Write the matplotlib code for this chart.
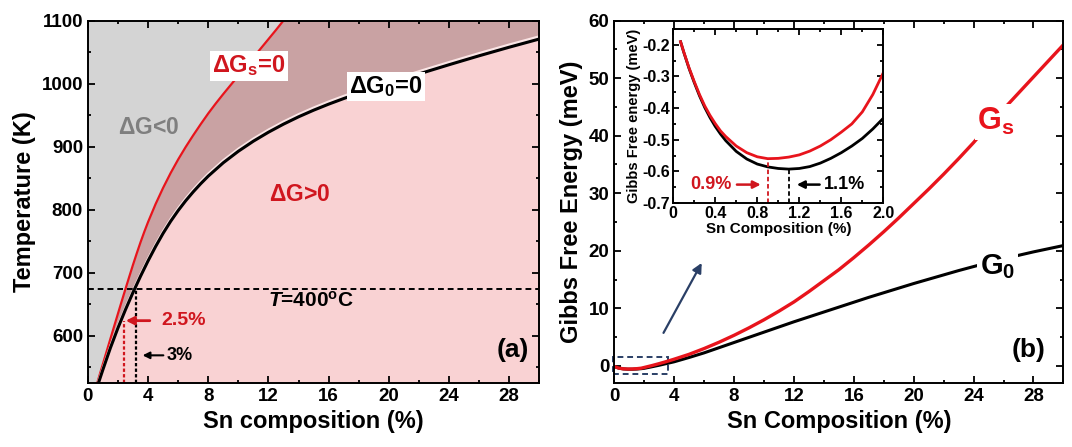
import matplotlib
matplotlib.use("Agg")
import matplotlib.pyplot as plt
import matplotlib.patheffects as pe
from matplotlib.ticker import MultipleLocator, FuncFormatter

# (a) phase boundaries: Sn composition (%) vs temperature (K)
red_x = [0.62, 0.8, 1.0, 1.25, 1.5, 1.75, 2.0, 2.25, 2.5, 2.75, 3.0, 3.25, 3.5, 3.75, 4.0,
         4.5, 5.0, 5.5, 6.0, 6.5, 7.0, 7.5, 8.0, 8.5, 9.0, 9.5, 10.0, 10.5, 11.0, 11.5, 12.0,
         12.5, 13.0]
red_T = [525, 539.6, 555.6, 575.6, 595.6, 615.5, 635.3, 655, 674.5, 693.8, 712.8, 731, 748.5,
         765, 780.5, 809, 834.7, 858.2, 879.7, 899.5, 918, 935.7, 952.7, 968.5, 983.5, 998,
         1012.5, 1027, 1041.5, 1056, 1070.5, 1085, 1100]
black_x = [0.7, 1.0, 1.5, 2.0, 2.5, 3.0, 3.5, 4.0, 4.5, 5.0, 5.5, 6.0, 6.5, 7.0, 7.5, 8.0,
           9.0, 10.0, 11.0, 12.0, 13.0, 14.0, 15.0, 16.0, 17.0, 18.0, 19.0, 20.0, 22.0, 24.0,
           26.0, 28.0, 30.0]
black_T = [525, 546.6, 581.1, 612.6, 641.6, 668.9, 694.6, 718.9, 741.6, 762.6, 781.6, 798.7,
           814.2, 828.3, 841.3, 853.3, 874.5, 892.7, 908.7, 922.9, 935.7, 947.3, 957.8, 967.4,
           976.3, 984.7, 992.6, 1000.3, 1015.3, 1029.9, 1044.1, 1057.7, 1070.7]
T_growth = 675
x_cross_s = 2.4
x_cross_0 = 3.2

# (b) Gibbs free energy (meV) vs Sn composition (%)
comp = [0.07, 0.3, 0.6, 0.9, 1.2, 1.5, 1.8, 2.0, 2.5, 3.0, 3.5, 4.0, 5.0, 6.0, 7.0, 8.0, 9.0,
        10.0, 11.0, 12.0, 13.0, 14.0, 15.0, 16.0, 17.0, 18.0, 19.0, 20.0, 21.0, 22.0, 23.0,
        24.0, 25.0, 26.0, 27.0, 28.0, 29.0, 30.0]
G_s = [-0.19, -0.393, -0.52, -0.56, -0.548, -0.5, -0.412, -0.288, 0.03, 0.38, 0.75, 1.15,
       2.0, 3.0, 4.1, 5.3, 6.6, 8.0, 9.5, 11.1, 12.9, 14.8, 16.7, 18.8, 21.0, 23.3, 25.7,
       28.2, 30.7, 33.3, 36.0, 38.8, 41.8, 44.6, 47.4, 50.2, 53.0, 55.8]
G_0 = [-0.19, -0.398, -0.537, -0.586, -0.591, -0.559, -0.496, -0.432, -0.17, 0.1, 0.4, 0.7,
       1.45, 2.25, 3.15, 4.05, 4.95, 5.85, 6.75, 7.65, 8.5, 9.35, 10.2, 11.05, 11.9, 12.7,
       13.5, 14.3, 15.05, 15.8, 16.55, 17.25, 17.95, 18.6, 19.2, 19.8, 20.35, 20.9]

# inset: zoom on the minimum
ins_x = [0.07, 0.1, 0.15, 0.2, 0.25, 0.3, 0.35, 0.4, 0.45, 0.5, 0.6, 0.7, 0.8, 0.9, 1.0, 1.1,
         1.2, 1.3, 1.4, 1.5, 1.6, 1.7, 1.8, 1.9, 2.0]
ins_Gs = [-0.19, -0.222, -0.272, -0.316, -0.357, -0.393, -0.423, -0.449, -0.472, -0.49, -0.52,
          -0.541, -0.554, -0.56, -0.559, -0.555, -0.548, -0.536, -0.52, -0.5, -0.476, -0.45,
          -0.412, -0.357, -0.288]
ins_G0 = [-0.19, -0.223, -0.274, -0.319, -0.361, -0.398, -0.43, -0.458, -0.482, -0.503, -0.537,
          -0.561, -0.577, -0.586, -0.591, -0.593, -0.591, -0.585, -0.574, -0.559, -0.541, -0.52,
          -0.496, -0.466, -0.432]
min_s, min_0 = 0.9, 1.1

RED = "#e8141c"
TXT_RED = "#d0161e"
GRAY = "#d4d4d4"
BROWN = "#c9a2a3"
PINK = "#f9d2d3"
NAVY = "#2a3f66"


def style_axis(ax, xmaj, xmin, ymaj, ymin, size=13.5):
    ax.xaxis.set_major_locator(MultipleLocator(xmaj))
    ax.xaxis.set_minor_locator(MultipleLocator(xmin))
    ax.yaxis.set_major_locator(MultipleLocator(ymaj))
    ax.yaxis.set_minor_locator(MultipleLocator(ymin))
    ax.tick_params(which="both", direction="in", top=True, right=True, width=1.3)
    ax.tick_params(which="major", length=5, labelsize=size)
    ax.tick_params(which="minor", length=2.5)
    for sp in ax.spines.values():
        sp.set_linewidth(1.4)


def plot_phase(ax):
    ax.set_facecolor(GRAY)
    ax.fill_betweenx(red_T, red_x, 30, color=BROWN, lw=0)
    ax.fill_betweenx(black_T, black_x, 30, color=PINK, lw=0)
    ax.plot(red_x, red_T, color=RED, lw=1.6)
    ax.plot(black_x, black_T, color="black", lw=2.2,
            path_effects=[pe.Stroke(linewidth=2.0, foreground="#fbe6e6", offset=(0.3, 1.8)),
                          pe.Normal()])
    ax.axhline(T_growth, color="black", lw=1.4, ls=(0, (3, 2)))
    ax.plot([x_cross_s, x_cross_s], [525, 624], color=TXT_RED, lw=1.6, ls=(0, (1.5, 1)))
    ax.plot([x_cross_0, x_cross_0], [525, T_growth], color="black", lw=1.6, ls=(0, (1.5, 1)))
    ax.annotate("", xy=(2.33, 624), xytext=(4.3, 624),
                arrowprops=dict(arrowstyle="-|>", color=TXT_RED, lw=2, mutation_scale=12))
    ax.text(4.9, 624, "2.5%", color=TXT_RED, fontsize=14, va="center")
    ax.annotate("", xy=(3.45, 569), xytext=(5.2, 569),
                arrowprops=dict(arrowstyle="-|>", color="black", lw=1.5, mutation_scale=10))
    ax.text(5.2, 569, "3%", color="black", fontsize=13, va="center")
    box = dict(facecolor="white", edgecolor="none", pad=1.5)
    ax.text(10.7, 1028, r"$\mathbf{\Delta G_s}$=0", color=TXT_RED, fontsize=17,
            ha="center", va="center", bbox=box)
    ax.text(19.8, 995, r"$\mathbf{\Delta G_0}$=0", color="black", fontsize=17,
            ha="center", va="center", bbox=box)
    ax.text(4.05, 930, r"$\mathbf{\Delta}$G<0", color="#7f7f7f", fontsize=16.5,
            ha="center", va="center")
    ax.text(14.1, 824, r"$\mathbf{\Delta}$G>0", color=TXT_RED, fontsize=16.5,
            ha="center", va="center")
    ax.text(12.0, 655, r"$\it{T}$=400$^{\mathbf{o}}$C", color="black", fontsize=15,
            ha="left", va="center")
    ax.text(29.3, 578, "(a)", fontsize=19, ha="right", va="center")
    ax.set_xlim(0, 30)
    ax.set_ylim(525, 1100)
    style_axis(ax, 4, 2, 100, 50)
    ax.set_xlabel("Sn composition (%)", fontsize=17)
    ax.set_ylabel("Temperature (K)", fontsize=17)


def plot_energy(ax):
    ax.plot(comp, G_0, color="black", lw=2.2)
    ax.plot(comp, G_s, color=RED, lw=2.4)
    box = dict(facecolor="white", edgecolor="none", pad=2)
    ax.text(25.5, 42.4, r"G$_\mathbf{s}$", color=RED, fontsize=22, ha="center",
            va="center", bbox=box)
    ax.text(25.6, 17.3, r"G$_\mathbf{0}$", color="black", fontsize=21, ha="center",
            va="center", bbox=box)
    ax.add_patch(plt.Rectangle((-0.1, -1.4), 3.7, 2.9, fill=False, ec=NAVY, lw=1.4,
                               ls=(0, (3, 2)), clip_on=False))
    ax.annotate("", xy=(5.93, 18.3), xytext=(3.2, 5.3),
                arrowprops=dict(arrowstyle="-|>", color=NAVY, lw=1.6, mutation_scale=14))
    ax.text(28.8, 2.8, "(b)", fontsize=19, ha="right", va="center")
    ax.set_xlim(0, 30)
    ax.set_ylim(-3, 60)
    style_axis(ax, 4, 2, 10, 5)
    ax.set_xlabel("Sn Composition (%)", fontsize=17)
    ax.set_ylabel("Gibbs Free Energy (meV)", fontsize=17)


def plot_inset(ax):
    ax.plot(ins_x, ins_G0, color="black", lw=2)
    ax.plot(ins_x, ins_Gs, color=RED, lw=2)
    ax.plot([min_s, min_s], [-0.7, min(ins_Gs)], color=TXT_RED, lw=1.3, ls=(0, (2.5, 1.5)))
    ax.plot([min_0, min_0], [-0.7, min(ins_G0)], color="black", lw=1.3, ls=(0, (2.5, 1.5)))
    ax.annotate("", xy=(0.86, -0.642), xytext=(0.58, -0.642),
                arrowprops=dict(arrowstyle="-|>", color=TXT_RED, lw=1.8, mutation_scale=11))
    ax.text(0.56, -0.642, "0.9%", color=TXT_RED, fontsize=13, ha="right", va="center")
    ax.annotate("", xy=(1.15, -0.642), xytext=(1.42, -0.642),
                arrowprops=dict(arrowstyle="-|>", color="black", lw=1.8, mutation_scale=11))
    ax.text(1.43, -0.642, "1.1%", color="black", fontsize=13, ha="left", va="center")
    ax.set_xlim(0, 2.0)
    ax.set_ylim(-0.7, -0.15)
    style_axis(ax, 0.4, 0.2, 0.1, 0.05, size=11.5)
    ax.tick_params(which="major", length=4, pad=2)
    ax.tick_params(which="minor", length=2)
    ax.xaxis.set_major_formatter(FuncFormatter(lambda v, p: "0" if abs(v) < 1e-9 else f"{v:.1f}"))
    ax.yaxis.set_major_formatter(FuncFormatter(lambda v, p: f"{v:.1f}"))
    ax.set_xlabel("Sn Composition (%)", fontsize=11, labelpad=1)
    ax.set_ylabel("Gibbs Free energy (meV)", fontsize=10.5, labelpad=1)


def main():
    plt.rcParams["font.family"] = ["Liberation Sans", "DejaVu Sans"]
    plt.rcParams["font.weight"] = "bold"
    plt.rcParams["axes.labelweight"] = "bold"
    plt.rcParams["axes.unicode_minus"] = False
    plt.rcParams["mathtext.fontset"] = "custom"
    plt.rcParams["mathtext.rm"] = "Liberation Sans:bold"
    plt.rcParams["mathtext.bf"] = "Liberation Sans:bold"
    plt.rcParams["mathtext.it"] = "Liberation Sans:italic:bold"

    fig = plt.figure(figsize=(10.72, 4.47), dpi=100)
    ax_a = fig.add_axes([0.082, 0.143, 0.421, 0.811])
    ax_b = fig.add_axes([0.573, 0.143, 0.419, 0.811])
    ax_in = fig.add_axes([0.628, 0.546, 0.196, 0.389])

    plot_phase(ax_a)
    plot_energy(ax_b)
    plot_inset(ax_in)

    fig.savefig("out.png", dpi=100)


if __name__ == "__main__":
    main()
